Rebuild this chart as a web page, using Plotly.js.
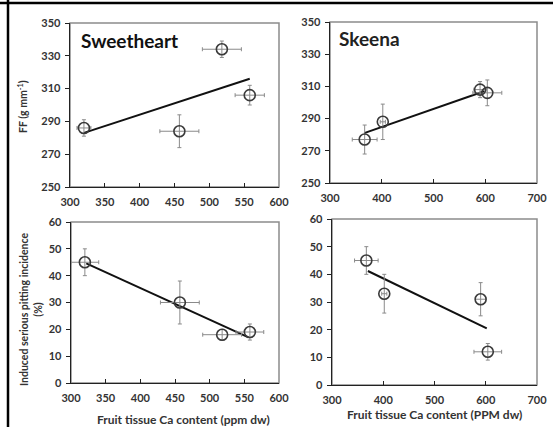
<!DOCTYPE html>
<html><head><meta charset="utf-8">
<script src="https://cdn.plot.ly/plotly-3.0.1.min.js"></script>
<style>html,body{margin:0;padding:0;background:#fff;}#chart{width:553px;height:427px;}</style>
</head><body><div id="chart"></div>
<script>
// Sweetheart – firmness
const swCa      = [320, 457, 518, 558];
const swCaErr   = [10, 28, 28, 21];
const swFF      = [286, 284, 334, 306];
const swFFErr   = [5, 10, 5, 6];
const swFFTrendX = [320, 558];
const swFFTrendY = [283, 316];
// Skeena – firmness
const skCa      = [367, 402, 590, 604];
const skCaErr   = [24, 5, 12, 28];
const skFF      = [277, 288, 308, 306];
const skFFErr   = [9, 11, 5, 8];
const skFFTrendX = [366, 598];
const skFFTrendY = [281, 307];
// Sweetheart – pitting
const swPit     = [45, 30, 18, 19];
const swPitErr  = [5, 8, 2, 3];
const swPitCaErr = [20, 28, 28, 20];
const swPitTrendX = [322, 556];
const swPitTrendY = [44.6, 17];
// Skeena – pitting
const skPit     = [45, 33, 31, 12];
const skPitErr  = [5, 7, 6, 3];
const skPitCaErr = [23, 5, 10, 27];
const skPitTrendX = [370, 602];
const skPitTrendY = [41.2, 20.5];

const titles = ['Sweetheart', 'Skeena'];
const yTitleTop = 'FF (g mm<sup>-1</sup>)';
const yTitleBottom = 'Induced serious pitting incidence<br>(%)';
const xTitleLeft = 'Fruit tissue Ca content (ppm dw)';
const xTitleRight = 'Fruit tissue Ca content (PPM dw)';

const W = 553, H = 427;
const FONT = 'Lato, "Open Sans", sans-serif';
const px = v => v / W, py = v => 1 - v / H;

function pts(x, y, ex, ey, xa, ya) {
  return {x, y, xaxis: xa, yaxis: ya, type: 'scatter', mode: 'markers',
    marker: {symbol: 'circle-open', size: 11, color: '#3a3a3a', line: {width: 1.6, color: '#3a3a3a'}},
    error_x: {type: 'data', array: ex, visible: true, color: '#8a8a8a', thickness: 1, width: 2},
    error_y: {type: 'data', array: ey, visible: true, color: '#8a8a8a', thickness: 1, width: 2},
    showlegend: false, hoverinfo: 'skip'};
}
function trend(x, y, xa, ya) {
  return {x, y, xaxis: xa, yaxis: ya, type: 'scatter', mode: 'lines',
    line: {color: '#111', width: 2}, showlegend: false, hoverinfo: 'skip'};
}
const data = [
  trend(swFFTrendX, swFFTrendY, 'x', 'y'),
  pts(swCa, swFF, swCaErr, swFFErr, 'x', 'y'),
  trend(skFFTrendX, skFFTrendY, 'x2', 'y2'),
  pts(skCa, skFF, skCaErr, skFFErr, 'x2', 'y2'),
  trend(swPitTrendX, swPitTrendY, 'x3', 'y3'),
  pts(swCa, swPit, swPitCaErr, swPitErr, 'x3', 'y3'),
  trend(skPitTrendX, skPitTrendY, 'x4', 'y4'),
  pts(skCa, skPit, skPitCaErr, skPitErr, 'x4', 'y4')
];

const tickFont = {family: FONT, size: 11, color: '#333', weight: 'bold'};
function ax(dom, range, dtick, anchor, tickPos) {
  return {domain: dom, range, dtick, tick0: range[0], anchor, showgrid: false, zeroline: false,
    showline: true, linecolor: '#222', linewidth: 1.3, mirror: false,
    ticks: tickPos, ticklen: 4, tickwidth: 1, tickcolor: '#222',
    ticklabelstandoff: tickPos === 'inside' ? 4 : 2,
    tickfont: tickFont, fixedrange: true};
}
const boxes = [['x','y'],['x2','y2'],['x3','y3'],['x4','y4']].map(([xa, ya]) => ({
  type: 'rect', xref: xa + ' domain', yref: ya + ' domain', x0: 0, x1: 1, y0: 0, y1: 1,
  line: {color: '#8c8c8c', width: 1.5}, layer: 'below'}));

const layout = {
  width: W, height: H, margin: {l: 0, r: 0, t: 0, b: 0},
  paper_bgcolor: '#fff', plot_bgcolor: '#fff', showlegend: false,
  xaxis: ax([px(70), px(279)], [300, 600], 50, 'y', 'inside'),
  yaxis: ax([py(187), py(23)], [250, 350], 20, 'x', 'outside'),
  xaxis2: ax([px(330), px(537)], [300, 700], 100, 'y2', 'inside'),
  yaxis2: ax([py(183), py(22)], [250, 350], 20, 'x2', 'outside'),
  xaxis3: ax([px(71), px(279)], [300, 600], 50, 'y3', 'inside'),
  yaxis3: ax([py(383), py(222)], [0, 60], 10, 'x3', 'outside'),
  xaxis4: ax([px(332), px(537)], [300, 700], 100, 'y4', 'inside'),
  yaxis4: ax([py(385), py(219)], [0, 60], 10, 'x4', 'outside'),
  shapes: boxes.concat([
    {type: 'line', xref: 'paper', yref: 'paper', x0: 0, x1: 1, y0: py(3), y1: py(3), line: {color: '#000', width: 2.5}},
    {type: 'line', xref: 'paper', yref: 'paper', x0: px(8), x1: px(8), y0: 0, y1: 1, line: {color: '#000', width: 2.5}}
  ]),
  annotations: [
    {text: titles[0], xref: 'paper', yref: 'paper', x: px(79), y: py(40), xanchor: 'left', yanchor: 'middle',
     showarrow: false, font: {family: FONT, size: 19, color: '#111', weight: 'bold'}},
    {text: titles[1], xref: 'paper', yref: 'paper', x: px(337), y: py(39), xanchor: 'left', yanchor: 'middle',
     showarrow: false, font: {family: FONT, size: 19, color: '#222', weight: 'bold'}},
    {text: yTitleTop, xref: 'paper', yref: 'paper', x: px(22), y: py(107), xanchor: 'center', yanchor: 'middle',
     textangle: -90, showarrow: false, font: {family: FONT, size: 10.5, color: '#333', weight: 'bold'}},
    {text: yTitleBottom, xref: 'paper', yref: 'paper', x: px(31), y: py(310), xanchor: 'center', yanchor: 'middle',
     textangle: -90, showarrow: false, font: {family: FONT, size: 10.5, color: '#333', weight: 'bold'}},
    {text: xTitleLeft, xref: 'paper', yref: 'paper', x: px(183), y: py(419), xanchor: 'center', yanchor: 'middle',
     showarrow: false, font: {family: FONT, size: 12, color: '#333', weight: 'bold'}},
    {text: xTitleRight, xref: 'paper', yref: 'paper', x: px(434), y: py(414), xanchor: 'center', yanchor: 'middle',
     showarrow: false, font: {family: FONT, size: 12, color: '#333', weight: 'bold'}}
  ]
};
Plotly.newPlot('chart', data, layout, {staticPlot: true, displayModeBar: false});
</script></body></html>
